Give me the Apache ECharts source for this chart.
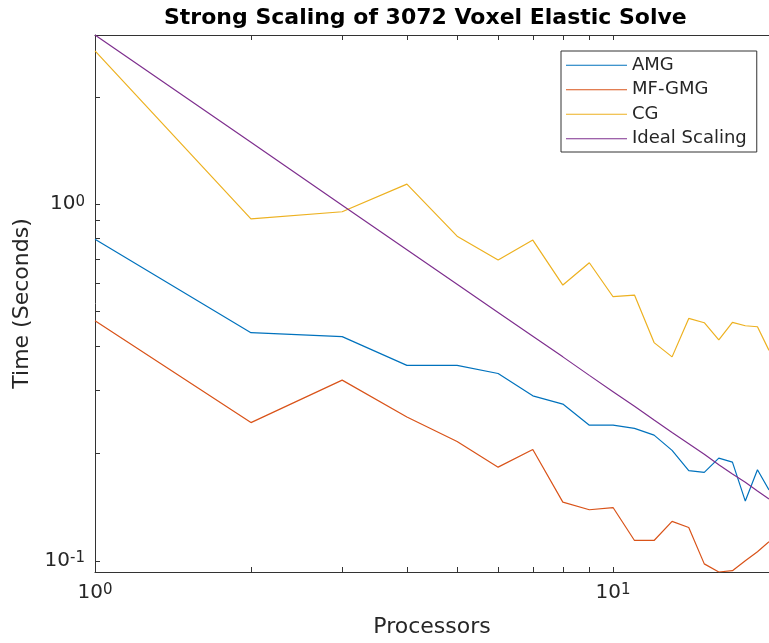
<!DOCTYPE html>
<html>
<head>
<meta charset="utf-8">
<script src="https://cdn.jsdelivr.net/npm/echarts@6/dist/echarts.min.js"></script>
<style>
  html, body { margin: 0; padding: 0; background: #fff; }
  #chart { width: 769px; height: 643px; }
</style>
</head>
<body>
<div id="chart"></div>
<script>
// ---- data ----
const processors = [1, 2, 3, 4, 5, 6, 7, 8, 9, 10, 11, 12, 13, 14, 15, 16, 17, 18, 19, 20];
const amg   = [0.797, 0.436, 0.425, 0.353, 0.353, 0.335, 0.290, 0.275, 0.240, 0.240, 0.235, 0.225, 0.204, 0.179, 0.177, 0.194, 0.189, 0.147, 0.180, 0.158];
const mfgmg = [0.471, 0.244, 0.321, 0.253, 0.216, 0.183, 0.205, 0.146, 0.139, 0.141, 0.114, 0.114, 0.129, 0.124, 0.098, 0.093, 0.0938, 0.100, 0.106, 0.113];
const cg    = [2.69, 0.909, 0.952, 1.138, 0.813, 0.697, 0.793, 0.593, 0.685, 0.550, 0.556, 0.409, 0.373, 0.478, 0.465, 0.416, 0.466, 0.456, 0.453, 0.389];
const ideal = [2.98, 1.49, 0.993, 0.745, 0.596, 0.497, 0.426, 0.373, 0.331, 0.298, 0.271, 0.248, 0.229, 0.213, 0.199, 0.186, 0.175, 0.166, 0.157, 0.149];
const seriesNames = ['AMG', 'MF-GMG', 'CG', 'Ideal Scaling'];
const xTickValues = [1, 2, 3, 4, 5, 6, 7, 8, 9, 10, 20];
const xLabelValues = [1, 10];
const yTickValues = [0.1, 0.2, 0.3, 0.4, 0.5, 0.6, 0.7, 0.8, 0.9, 1, 2];
const yLabelValues = [0.1, 1];

const allSeries = [amg, mfgmg, cg, ideal];
const yMin = Math.min(...allSeries.map(a => Math.min(...a)));
const yMax = Math.max(...allSeries.map(a => Math.max(...a)));
const xMin = Math.min(...processors);
const xMax = Math.max(...processors);

const colors = ['#0072BD', '#D95319', '#EDB120', '#7E2F8E'];
const axisColor = '#333333';
const textColor = '#262626';
const FONT = 'DejaVu Sans';

function pow10Label(v) {
  const e = Math.round(Math.log10(v));
  return '{b|10}{s|' + e + '}';
}
const richLabel = {
  b: { fontFamily: FONT, fontSize: 20, lineHeight: 20, color: textColor, verticalAlign: 'bottom', padding: [4, 0, 0, 0] },
  s: { fontFamily: FONT, fontSize: 15, lineHeight: 15, color: textColor, verticalAlign: 'top' }
};

const chart = echarts.init(document.getElementById('chart'), null, { renderer: 'canvas' });

const series = allSeries.map((arr, i) => ({
  name: seriesNames[i],
  type: 'line',
  xAxisIndex: 0,
  yAxisIndex: 0,
  data: processors.map((p, j) => [p, arr[j]]),
  symbol: 'none',
  showSymbol: false,
  clip: true,
  lineStyle: { color: colors[i], width: 1.2 },
  itemStyle: { color: colors[i] }
}));

chart.setOption({
  animation: false,
  backgroundColor: '#ffffff',
  title: {
    text: 'Strong Scaling of 3072 Voxel Elastic Solve',
    left: 164,
    top: 7,
    padding: 0,
    textStyle: { fontFamily: FONT, fontSize: 22, fontWeight: 'bold', color: '#000000' }
  },
  legend: {
    orient: 'vertical',
    left: 561,
    top: 51,
    padding: [2, 10, 1, 5],
    itemGap: 0,
    itemWidth: 61,
    itemHeight: 1.2,
    icon: 'rect',
    backgroundColor: '#ffffff',
    borderColor: axisColor,
    borderWidth: 1,
    borderRadius: 0,
    data: seriesNames,
    textStyle: { fontFamily: FONT, fontSize: 18, color: textColor, lineHeight: 24.5 }
  },
  grid: { left: 95, top: 35, right: -6, bottom: 71, containLabel: false },
  xAxis: [{
    type: 'log',
    logBase: 10,
    min: xMin,
    max: xMax,
    position: 'bottom',
    name: 'Processors',
    nameLocation: 'middle',
    nameGap: 44,
    nameTextStyle: { fontFamily: FONT, fontSize: 22, color: textColor },
    axisLine: { show: true, lineStyle: { color: axisColor, width: 1 } },
    axisTick: { show: true, inside: true, length: 5, customValues: xTickValues, lineStyle: { color: axisColor } },
    minorTick: { show: false },
    splitLine: { show: false },
    axisLabel: { show: true, customValues: xLabelValues, margin: 11, formatter: pow10Label, rich: richLabel }
  }, {
    type: 'log',
    logBase: 10,
    min: xMin,
    max: xMax,
    position: 'top',
    axisLine: { show: true, onZero: false, lineStyle: { color: axisColor, width: 1 } },
    axisTick: { show: true, inside: true, length: 5, customValues: xTickValues, lineStyle: { color: axisColor } },
    splitLine: { show: false },
    axisLabel: { show: false }
  }],
  yAxis: [{
    type: 'log',
    logBase: 10,
    min: yMin,
    max: yMax,
    position: 'left',
    name: 'Time (Seconds)',
    nameLocation: 'middle',
    nameGap: 61,
    nameRotate: 90,
    nameTextStyle: { fontFamily: FONT, fontSize: 22, color: textColor },
    axisLine: { show: true, lineStyle: { color: axisColor, width: 1 } },
    axisTick: { show: true, inside: true, length: 5, customValues: yTickValues, lineStyle: { color: axisColor } },
    splitLine: { show: false },
    axisLabel: { show: true, customValues: yLabelValues, margin: 10, formatter: pow10Label, rich: richLabel }
  }],
  series: series
});
</script>
</body>
</html>
